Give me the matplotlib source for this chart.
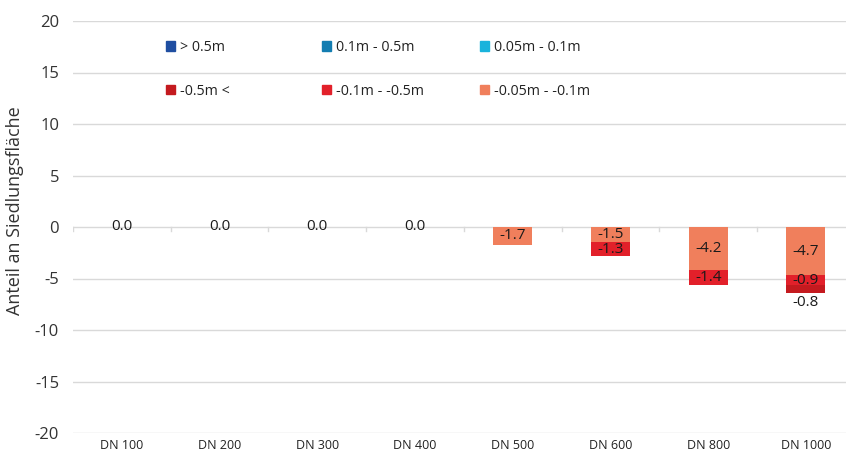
import numpy as np
import matplotlib.pyplot as plt
from matplotlib.patches import Patch
from matplotlib.legend import Legend

plt.rcParams['font.family'] = ['Open Sans', 'DejaVu Sans']
plt.rcParams['axes.unicode_minus'] = False

categories = ["DN 100", "DN 200", "DN 300", "DN 400", "DN 500", "DN 600", "DN 800", "DN 1000"]

# share of settlement area per depth-change class (negative = lowering)
rise_gt_05 = [0, 0, 0, 0, 0, 0, 0, 0]
rise_01_05 = [0, 0, 0, 0, 0, 0, 0, 0]
rise_005_01 = [0, 0, 0, 0, 0, 0, 0, 0]
drop_gt_05 = [0, 0, 0, 0, 0, 0, 0, -0.8]
drop_01_05 = [0, 0, 0, 0, 0, -1.3, -1.4, -0.9]
drop_005_01 = [0, 0, 0, 0, -1.7, -1.5, -4.2, -4.7]

labels_top = ["> 0.5m", "0.1m - 0.5m", "0.05m - 0.1m"]
labels_bottom = ["-0.5m <", "-0.1m - -0.5m", "-0.05m - -0.1m"]
colors_top = ["#1f4ea1", "#137db1", "#19b3dc"]
colors_bottom = ["#c41a1f", "#e2202a", "#f07f5c"]

fig = plt.figure(figsize=(8.46, 4.53), dpi=100)
ax = fig.add_axes([73 / 846, 20 / 453, 773 / 846, 412 / 453])

x = np.arange(len(categories))
width = 0.4
grid_c = "#d9d9d9"
lab_fs = 11

# negative stack: small drops next to zero, large drops at the bottom
bottom = np.zeros(len(x))
for vals, col, pos in [(drop_005_01, colors_bottom[2], "center"),
                       (drop_01_05, colors_bottom[1], "center"),
                       (drop_gt_05, colors_bottom[0], "edge")]:
    vals = np.array(vals, dtype=float)
    bars = ax.bar(x, vals, width, bottom=bottom, color=col, zorder=3)
    for b, v, b0 in zip(bars, vals, bottom):
        if v == 0:
            continue
        if pos == "center":
            ax.text(b.get_x() + width / 2, b0 + v / 2, f"{v:.1f}",
                    ha="center", va="center", fontsize=lab_fs, color="#1a1a1a", zorder=4)
        else:
            ax.text(b.get_x() + width / 2, b0 + v - 0.2, f"{v:.1f}",
                    ha="center", va="top", fontsize=lab_fs, color="#1a1a1a", zorder=4)
    bottom = bottom + vals

for vals, col in zip([rise_gt_05, rise_01_05, rise_005_01], colors_top):
    ax.bar(x, vals, width, color=col, zorder=3)

total = (np.abs(drop_005_01) + np.abs(drop_01_05) + np.abs(drop_gt_05)
         + np.abs(rise_gt_05) + np.abs(rise_01_05) + np.abs(rise_005_01))
for xi, t in zip(x, total):
    if t == 0:
        ax.text(xi, 0, "0.0", ha="center", va="center", fontsize=lab_fs,
                color="#1a1a1a", zorder=4)

ax.set_ylim(-20, 20)
ax.set_xlim(-0.5, 7.41)
ax.set_yticks(np.arange(-20, 21, 5))
ax.yaxis.grid(True, color=grid_c, linewidth=1)
ax.set_axisbelow(True)
for s in ax.spines.values():
    s.set_visible(False)
ax.tick_params(axis="y", length=0, labelsize=12, colors="#333333", pad=10)
ax.tick_params(axis="x", length=0, labelsize=9, colors="#222222", pad=4)
ax.set_xticks(x)
ax.set_xticklabels(categories)
ax.set_ylabel("Anteil an Siedlungsfläche", fontsize=13, color="#333333")
ax.yaxis.set_label_coords(-0.064, 0.54)

# category separators on the zero line
for xb in np.arange(-0.5, 7.5, 1):
    ax.plot([xb, xb], [0, -0.35], color=grid_c, linewidth=1, zorder=2)

# legend: three columns, each its own legend box
col_x = [166, 322, 480]
for i in range(3):
    handles = [Patch(color=colors_top[i], label=labels_top[i]),
               Patch(color=colors_bottom[i], label=labels_bottom[i])]
    leg = Legend(ax, handles, [h.get_label() for h in handles], loc="upper left",
                 bbox_to_anchor=(col_x[i] / 846, 1 - 40 / 453),
                 bbox_transform=fig.transFigure, frameon=False,
                 fontsize=10.3, handlelength=0.65, handleheight=0.65,
                 handletextpad=0.35, labelspacing=2.0, borderpad=0,
                 borderaxespad=0)
    for t in leg.get_texts():
        t.set_color("#222222")
    ax.add_artist(leg)

fig.savefig("out.png", dpi=100)
